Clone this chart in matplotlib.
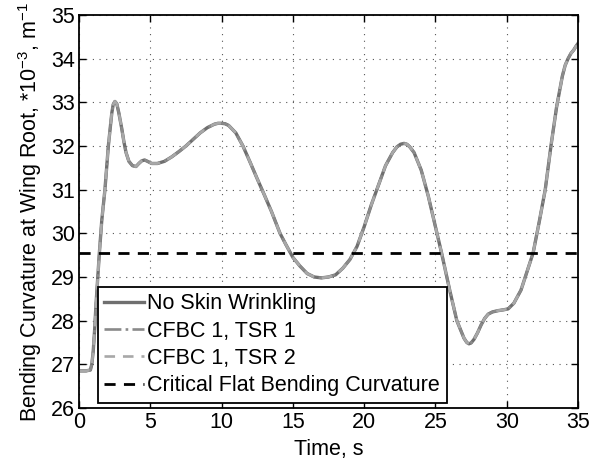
import matplotlib
matplotlib.use("Agg")
import matplotlib.pyplot as plt

# curvature history (time in s, curvature *1e-3 1/m)
time = [0.0, 0.5, 0.8, 0.9, 1.0, 1.1, 1.2, 1.43, 1.6, 1.82, 2.06, 2.3,
        2.4, 2.52, 2.65, 2.8, 3.0, 3.15, 3.3, 3.5, 3.75, 4.0, 4.2, 4.4,
        4.6, 4.8, 5.1, 5.5, 6.0, 6.5, 7.0, 7.5, 8.0, 8.5, 9.0, 9.5, 9.75,
        10.0, 10.25, 10.5, 11.0, 11.5, 12.0, 12.5, 13.0, 13.5, 14.1, 14.5,
        15.0, 15.5, 16.0, 16.5, 17.0, 17.5, 18.0, 18.5, 19.0, 19.5, 20.0,
        20.5, 21.0, 21.5, 22.0, 22.3, 22.55, 22.8, 23.0, 23.2, 23.5, 24.0,
        24.5, 25.0, 25.43, 26.0, 26.5, 27.0, 27.2, 27.35, 27.5, 27.7,
        27.95, 28.2, 28.45, 28.7, 29.0, 29.4, 29.8, 30.1, 30.5, 31.0,
        31.4, 31.85, 32.3, 32.7, 33.1, 33.5, 33.9, 34.1, 34.3, 34.5,
        34.7, 34.85, 35.0]
curv = [26.85, 26.85, 26.87, 27.0, 27.3, 27.8, 28.4, 29.55, 30.3, 31.0,
        32.0, 32.75, 32.95, 33.02, 32.97, 32.75, 32.4, 32.1, 31.85, 31.65,
        31.55, 31.53, 31.6, 31.66, 31.68, 31.65, 31.6, 31.6, 31.65, 31.75,
        31.87, 32.0, 32.15, 32.3, 32.42, 32.5, 32.52, 32.52, 32.51, 32.47,
        32.3, 32.0, 31.63, 31.25, 30.88, 30.5, 30.0, 29.75, 29.45, 29.25,
        29.08, 29.0, 28.98, 29.0, 29.05, 29.2, 29.4, 29.7, 30.15, 30.65,
        31.1, 31.55, 31.85, 31.98, 32.04, 32.06, 32.04, 31.98, 31.85,
        31.45, 30.85, 30.15, 29.55, 28.7, 28.0, 27.6, 27.5, 27.47, 27.49,
        27.57, 27.72, 27.9, 28.05, 28.15, 28.2, 28.23, 28.25, 28.27, 28.4,
        28.7, 29.1, 29.55, 30.3, 31.0, 32.0, 32.9, 33.6, 33.85, 34.0,
        34.12, 34.2, 34.28, 34.35]
critical = 29.55

labels = ["No Skin Wrinkling", "CFBC 1, TSR 1", "CFBC 1, TSR 2",
          "Critical Flat Bending Curvature"]

plt.rcParams['font.family'] = ['Liberation Sans', 'DejaVu Sans']
plt.rcParams['mathtext.default'] = 'regular'
plt.rcParams['font.size'] = 15.5

fig = plt.figure(figsize=(5.92, 4.62), dpi=100)
ax = fig.add_axes([0.1334, 0.1169, 0.8430, 0.8506])

ax.plot(time, curv, color='#6f6f6f', lw=2.4, ls='-', label=labels[0])
ax.plot(time, curv, color='#8a8a8a', lw=1.9, ls='-.', label=labels[1])
ax.plot(time, curv, color='#a8a8a8', lw=1.9, ls='--', dashes=(4, 3),
        label=labels[2])
ax.axhline(critical, color='black', lw=2, ls='--', dashes=(4, 3),
           label=labels[3])

ax.set_xlim(0, 35)
ax.set_ylim(26, 35)
ax.set_xticks(range(0, 36, 5))
ax.set_yticks(range(26, 36))
ax.grid(True, ls=(0, (1, 5)), color='#555555', lw=0.8)
ax.tick_params(direction='in', top=True, right=True, length=5, width=1,
               labelsize=15.5, pad=3)
for s in ax.spines.values():
    s.set_linewidth(1.3)

ax.set_xlabel("Time, s", fontsize=15.5, labelpad=4)
ax.set_ylabel("Bending Curvature at Wing Root, *10$^{-3}$, m$^{-1}$",
              fontsize=15.5, labelpad=5)

leg = ax.legend(loc='lower left', bbox_to_anchor=(0.038, 0.013), fontsize=15.5,
                fancybox=False, framealpha=1, edgecolor='black',
                handlelength=1.85, handletextpad=0.15, borderpad=0.3,
                labelspacing=0.3, borderaxespad=0)
leg.get_frame().set_linewidth(1.3)

fig.savefig("out.png", dpi=100)
